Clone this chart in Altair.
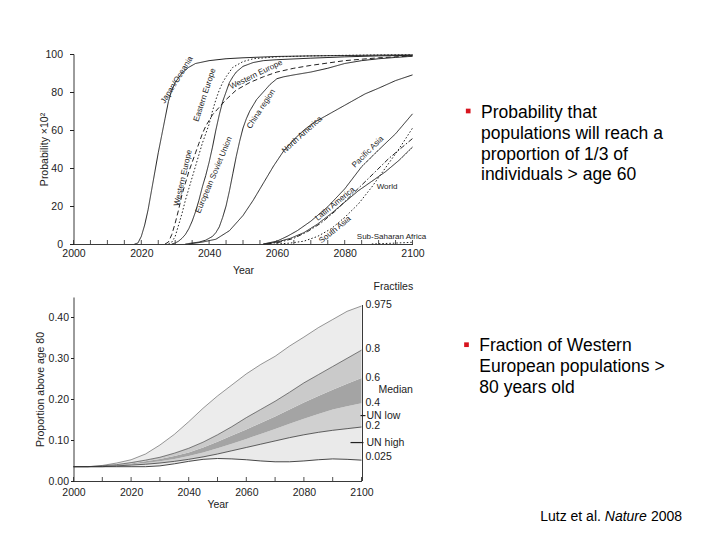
import altair as alt
import pandas as pd

FONT = "Liberation Sans"
INK = "#222222"
RED = "#d7141e"

# ---------------------------------------------------------------
# Upper panel: probability (x100) that a region reaches 1/3 of its
# population above age 60
# ---------------------------------------------------------------
japan_years = [2018, 2019, 2020, 2021, 2022, 2023, 2024, 2025, 2026, 2027, 2028, 2029,
               2030, 2032, 2034, 2036, 2040, 2045, 2050, 2060, 2070, 2080, 2090, 2100]
japan_vals = [0, 0.5, 4, 10, 18, 28, 38, 48, 57, 66, 75, 81,
              85, 90, 93, 95, 96.5, 97.5, 98, 98.7, 99, 99.2, 99.4, 99.5]

weur_years = [2027, 2028, 2029, 2030, 2031, 2032, 2033, 2034, 2035, 2036, 2037, 2038, 2039,
              2040, 2041, 2042, 2043, 2045, 2048, 2052, 2056, 2060, 2065, 2070, 2080, 2090, 2100]
weur_vals = [0, 1, 5, 11, 18, 26, 32, 38, 43, 48, 53, 58, 62,
             65, 68, 70, 72, 76, 81, 85, 88, 90.5, 92.5, 94, 96.5, 98, 99]

eeur_years = [2028, 2029, 2030, 2031, 2032, 2033, 2034, 2035, 2036, 2037, 2038, 2039, 2040,
              2041, 2042, 2043, 2044, 2045, 2047, 2050, 2053, 2060, 2070, 2080, 2090, 2100]
eeur_vals = [0, 1, 4, 10, 16, 23, 29, 35, 41, 47, 53, 58, 63,
             70, 76, 81, 85, 88, 93, 96, 97.5, 98.5, 99, 99.3, 99.5, 99.6]

esu_years = [2029, 2030, 2031, 2032, 2033, 2034, 2035, 2036, 2037, 2038, 2039, 2040, 2041, 2042,
             2043, 2044, 2045, 2046, 2047, 2048, 2050, 2053, 2056, 2060, 2070, 2080, 2090, 2100]
esu_vals = [0, 0.5, 1.5, 3, 5, 8, 12, 17, 23, 30, 36, 43, 51, 60,
            68, 75, 80, 85, 88, 90.5, 93.5, 95.5, 96.5, 97, 97.8, 98.5, 99, 99.3]

china_years = [2033, 2035, 2037, 2039, 2041, 2042, 2043, 2044, 2045, 2046, 2047, 2048, 2049, 2050,
               2051, 2052, 2054, 2056, 2058, 2060, 2062, 2065, 2070, 2075, 2080, 2085, 2090, 2095, 2100]
china_vals = [0, 0.5, 1, 2, 4, 6, 9, 14, 20, 28, 37, 46, 54, 61,
              66, 70, 76, 80, 84, 87, 88, 89, 90.5, 92.5, 95, 96.5, 97.5, 98.2, 98.8]

namer_years = [2034, 2038, 2042, 2046, 2050, 2053, 2056, 2059, 2062, 2065,
               2068, 2071, 2074, 2077, 2080, 2083, 2086, 2090, 2095, 2100]
namer_vals = [0, 1, 2.5, 7, 15, 23, 32, 41, 49, 55, 60, 64, 67, 70, 73, 76, 79, 82, 86, 89]

pasia_years = [2056, 2060, 2063, 2066, 2070, 2075, 2080, 2085, 2090, 2095, 2100]
pasia_vals = [0, 1.5, 4, 7, 12, 19.6, 29, 40.7, 49.5, 58, 68.5]

latam_years = [2057, 2061, 2065, 2069, 2073, 2077, 2081, 2085, 2089, 2093, 2097, 2100]
latam_vals = [0, 1, 3, 6.5, 11, 17, 24, 31, 38, 45, 51, 55.5]

sasia_years = [2060, 2064, 2068, 2072, 2076, 2080, 2084, 2088, 2092, 2096, 2100]
sasia_vals = [0, 0.5, 1.5, 4, 8, 14, 21, 30, 40, 50, 61]

world_years = [2056, 2060, 2064, 2068, 2072, 2076, 2080, 2084, 2088, 2092, 2096, 2100]
world_vals = [0, 1, 3, 6, 10.5, 16, 22, 28, 33, 38, 44, 51]

ssa_years = [2088, 2094, 2100]
ssa_vals = [0, 0.4, 0.9]

curves = [
    ("Japan/Oceania", japan_years, japan_vals, "solid"),
    ("Western Europe", weur_years, weur_vals, "dashed"),
    ("Eastern Europe", eeur_years, eeur_vals, "dotted"),
    ("European Soviet Union", esu_years, esu_vals, "solid"),
    ("China region", china_years, china_vals, "solid"),
    ("North America", namer_years, namer_vals, "solid"),
    ("Pacific Asia", pasia_years, pasia_vals, "solid"),
    ("Latin America", latam_years, latam_vals, "dashdot"),
    ("South Asia", sasia_years, sasia_vals, "dotted"),
    ("World", world_years, world_vals, "solid"),
    ("Sub-Saharan Africa", ssa_years, ssa_vals, "dotted"),
]
curve_rows = []
for name, ys, vs, style in curves:
    for y, v in zip(ys, vs):
        curve_rows.append({"region": name, "year": y, "value": v, "style": style})
curve_df = pd.DataFrame(curve_rows)

# in-plot region labels: text, anchor year, anchor value, rotation
region_labels = ["Japan/Oceania", "Eastern Europe", "Western Europe", "China region",
                 "Western Europe", "European Soviet Union", "North America",
                 "Pacific Asia", "Latin America", "World", "South Asia",
                 "Sub-Saharan Africa"]
label_years = [2030.6, 2038.8, 2053.9, 2055.4, 2032.4, 2041.5, 2067.5,
               2086.9, 2077.2, 2092.5, 2077.2, 2093.8]
label_vals = [86.3, 78.4, 89, 71, 34.7, 36.3, 57.4, 48.4, 21, 30, 7.4, 3.7]
label_angles = [302, 288, 334, 303, 283, 293, 318, 315, 321, 0, 321, 0]
label_df = pd.DataFrame({"label": region_labels, "year": label_years,
                         "value": label_vals, "angle": label_angles})

top_tick_years = list(range(2000, 2101, 5))
top_x_labels = list(range(2000, 2101, 20))
top_y_labels = [0, 20, 40, 60, 80, 100]

TOP_W, TOP_H = 339, 190
top_x_scale = alt.Scale(domain=[2000, 2100], nice=False, zero=False)
top_y_scale = alt.Scale(domain=[0, 100], nice=False, zero=False)
top_x_axis = alt.Axis(values=top_x_labels, format="d", tickSize=0, labelPadding=4,
                      labelFlush=False, title="Year", titlePadding=7, labelOverlap=False)
top_y_axis = alt.Axis(values=top_y_labels, format="d", tickSize=4, labelPadding=7,
                      labelFlush=False, labelOverlap=False, title="Probability ×10²",
                      titlePadding=-5)

x_top = alt.X("year:Q", scale=top_x_scale, axis=top_x_axis)
y_top = alt.Y("value:Q", scale=top_y_scale, axis=top_y_axis)

lines = alt.Chart(curve_df).mark_line(strokeWidth=1, color=INK).encode(
    x=x_top, y=y_top, detail="region:N", order="year:Q",
    strokeDash=alt.StrokeDash("style:N", legend=None, scale=alt.Scale(
        domain=["solid", "dashed", "dotted", "dashdot"],
        range=[[1, 0], [5, 3], [1.5, 2], [5, 2, 1.5, 2]])),
)

region_text = alt.Chart(label_df).mark_text(font=FONT, fontSize=8, color=INK).encode(
    x=x_top, y=y_top, text="label:N", angle=alt.Angle("angle:Q", scale=None),
)

top_ticks = alt.Chart(pd.DataFrame({"year": top_tick_years})).mark_rule(
    color=INK, strokeWidth=0.8).encode(
    x=x_top, y=alt.value(TOP_H), y2=alt.value(TOP_H - 4))

note1 = pd.DataFrame({"t": ["Probability that\npopulations will reach a\n"
                            "proportion of 1/3 of\nindividuals > age 60"]})
bullet1 = alt.Chart(note1).mark_square(size=22, color=RED, opacity=1).encode(
    x=alt.value(394.7), y=alt.value(57))
text1 = alt.Chart(note1).mark_text(font=FONT, fontSize=17.5, color="#000000", align="left",
                                   baseline="alphabetic", lineBreak="\n", lineHeight=20.7).encode(
    x=alt.value(407.5), y=alt.value(64.3), text="t:N")

top = alt.layer(lines, region_text, top_ticks, bullet1, text1).properties(
    width=TOP_W, height=TOP_H)

# ---------------------------------------------------------------
# Lower panel: proportion of Western Europe's population above 80,
# probabilistic fractiles
# ---------------------------------------------------------------
fan_years = list(range(2000, 2101, 5))
q025 = [.035, .035, .035, .035, .035, .035, .037, .042, .048, .053, .055,
        .054, .052, .049, .047, .047, .049, .052, .054, .053, .051]
q200 = [.035, .035, .035, .037, .039, .041, .044, .048, .053, .059, .066,
        .074, .082, .090, .098, .106, .113, .119, .124, .128, .132]
q400 = [.035, .035, .036, .038, .041, .044, .048, .054, .061, .070, .080,
        .091, .103, .115, .127, .140, .152, .164, .175, .183, .190]
q600 = [.035, .035, .036, .039, .043, .048, .054, .061, .070, .082, .096,
        .111, .126, .142, .158, .175, .192, .208, .223, .238, .252]
q800 = [.035, .035, .037, .040, .045, .051, .058, .068, .080, .095, .113,
        .133, .155, .175, .195, .217, .240, .260, .280, .300, .320]
q975 = [.035, .035, .038, .044, .052, .066, .088, .114, .145, .178, .208,
        .235, .262, .285, .305, .330, .352, .375, .395, .415, .428]

# UN variants in 2100
un_labels = ["UN  low", "UN  high"]
un_vals = [0.160, 0.094]

fractile_text = ["0.975", "0.8", "0.6", "Median", "0.4", "UN  low", "0.2", "UN  high", "0.025"]
fractile_pos = [0.430, 0.323, 0.252, 0.222, 0.190, 0.160, 0.134, 0.094, 0.058]
fractile_dx = [4, 4, 4, 17, 4, 5, 4, 5, 4]

bands = [("b1", q025, q200), ("b2", q200, q400), ("b3", q400, q600),
         ("b4", q600, q800), ("b5", q800, q975)]
band_rows = []
for name, lo, hi in bands:
    for yr, a, b in zip(fan_years, lo, hi):
        band_rows.append({"band": name, "year": yr, "lo": a, "hi": b})
band_df = pd.DataFrame(band_rows)

edge_rows = []
for name, qs in [("q025", q025), ("q200", q200), ("q800", q800), ("q975", q975)]:
    for yr, v in zip(fan_years, qs):
        edge_rows.append({"edge": name, "year": yr, "value": v})
edge_df = pd.DataFrame(edge_rows)

BOT_W, BOT_H = 288, 184
bot_x_labels = list(range(2000, 2101, 20))
bot_tick_years = list(range(2000, 2101, 10))
bot_y_labels = [0, 0.1, 0.2, 0.3, 0.4]

bot_x_scale = alt.Scale(domain=[2000, 2100], nice=False, zero=False)
bot_y_scale = alt.Scale(domain=[0, 0.45], nice=False)
bot_x_axis = alt.Axis(values=bot_x_labels, format="d", tickSize=0, labelPadding=6,
                      labelFlush=False, title="Year", titlePadding=2, labelOverlap=False)
bot_y_axis = alt.Axis(values=bot_y_labels, format=".2f", tickSize=3, labelPadding=2,
                      labelFlush=False, labelOverlap=False,
                      title="Proportion above age 80", titlePadding=3)

x_bot = alt.X("year:Q", scale=bot_x_scale, axis=bot_x_axis)


def y_bot(field):
    return alt.Y(field, scale=bot_y_scale, axis=bot_y_axis)


fan = alt.Chart(band_df).mark_area(opacity=1).encode(
    x=x_bot, y=y_bot("lo:Q"), y2="hi:Q",
    color=alt.Color("band:N", legend=None, scale=alt.Scale(
        domain=["b1", "b2", "b3", "b4", "b5"],
        range=["#eaeaea", "#d0d0d0", "#a4a4a4", "#cacaca", "#ececec"])),
)

edges = alt.Chart(edge_df).mark_line(color="#333333").encode(
    x=x_bot, y=y_bot("value:Q"), detail="edge:N",
    strokeWidth=alt.StrokeWidth("edge:N", legend=None, scale=alt.Scale(
        domain=["q025", "q200", "q800", "q975"], range=[0.9, 0.5, 0.6, 0.9])),
)

bot_ticks = alt.Chart(pd.DataFrame({"year": bot_tick_years})).mark_rule(
    color=INK, strokeWidth=0.8).encode(
    x=x_bot, y=alt.value(BOT_H), y2=alt.value(BOT_H - 4))

right_axis = alt.Chart(pd.DataFrame({"k": [0]})).mark_rule(color=INK, strokeWidth=0.9).encode(
    x=alt.value(BOT_W + 1), y=alt.value(8), y2=alt.value(BOT_H))

un_df = pd.DataFrame({"label": un_labels, "value": un_vals})
un_low = alt.Chart(un_df[un_df.label == "UN  low"]).mark_rule(color=INK, strokeWidth=1.2).encode(
    y=y_bot("value:Q"), x=alt.value(BOT_W - 1), x2=alt.value(BOT_W + 4))
un_high = alt.Chart(un_df[un_df.label == "UN  high"]).mark_rule(color=INK, strokeWidth=1.2).encode(
    y=y_bot("value:Q"), x=alt.value(BOT_W - 11), x2=alt.value(BOT_W + 2))

frac_df = pd.DataFrame({"t": fractile_text, "value": fractile_pos, "dx": fractile_dx,
                        "year": [2100] * len(fractile_text)})
frac_labels = alt.layer(*[
    alt.Chart(frac_df.iloc[[i]]).mark_text(font=FONT, fontSize=10.5, color=INK, align="left",
                                           baseline="middle", dx=int(d)).encode(
        x=x_bot, y=y_bot("value:Q"), text="t:N")
    for i, d in enumerate(fractile_dx)
])

hdr = alt.Chart(pd.DataFrame({"t": ["Fractiles"]})).mark_text(
    font=FONT, fontSize=10.5, color=INK, align="left", baseline="alphabetic").encode(
    x=alt.value(BOT_W + 12), y=alt.value(-7), text="t:N")

note2 = pd.DataFrame({"t": ["Fraction of Western\nEuropean populations >\n80 years old"]})
bullet2 = alt.Chart(note2).mark_square(size=22, color=RED, opacity=1).encode(
    x=alt.value(393), y=alt.value(47.7))
text2 = alt.Chart(note2).mark_text(font=FONT, fontSize=17.5, color="#000000", align="left",
                                   baseline="alphabetic", lineBreak="\n", lineHeight=21).encode(
    x=alt.value(405.8), y=alt.value(53.7), text="t:N")

cite_parts = ["Lutz et al.", "Nature", "2008"]
cite_x = [466.7, 531.3, 577.5]
cite_style = ["normal", "italic", "normal"]
cite = alt.layer(*[
    alt.Chart(pd.DataFrame({"t": [p]})).mark_text(
        font=FONT, fontSize=14, fontStyle=s, color="#000000", align="left",
        baseline="alphabetic").encode(x=alt.value(px), y=alt.value(223.7), text="t:N")
    for p, px, s in zip(cite_parts, cite_x, cite_style)
])

bottom = alt.layer(fan, edges, bot_ticks, right_axis, un_low, un_high, frac_labels, hdr,
                   bullet2, text2, cite).properties(width=BOT_W, height=BOT_H)

chart = alt.vconcat(top, bottom, spacing=53, bounds="flush").properties(
    padding={"left": 34.5, "top": 49, "right": 4, "bottom": 4},
    background="white",
).configure_view(stroke=None).configure_axis(
    labelFont=FONT, titleFont=FONT, labelFontSize=10.5, titleFontSize=10.5,
    titleFontWeight="normal", labelColor=INK, titleColor=INK, domainColor=INK,
    tickColor=INK, domainWidth=0.9, grid=False,
)

chart.save("out.html", embed_options={"renderer": "svg", "actions": False})
